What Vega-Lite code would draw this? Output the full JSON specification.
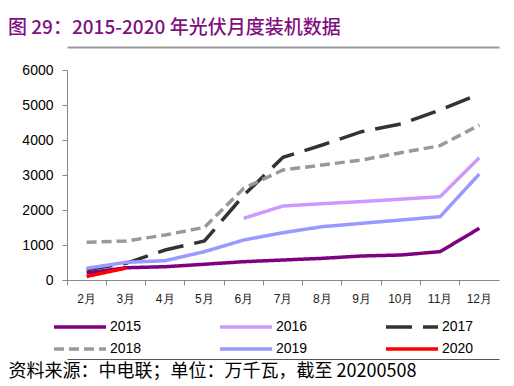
{
  "$schema": "https://vega.github.io/schema/vega-lite/v6.json",
  "autosize": "none",
  "width": 432,
  "height": 210,
  "padding": {"left": 67, "top": 70, "right": 15, "bottom": 106},
  "background": "white",
  "config": {"view": {"stroke": null}, "font": "Arial"},
  "title": {
    "text": "图 29：2015-2020 年光伏月度装机数据",
    "anchor": "start",
    "frame": "group",
    "dx": -59,
    "offset": 9,
    "font": "Noto Sans CJK SC",
    "fontSize": 19,
    "fontWeight": 500,
    "color": "#7F107F"
  },
  "data": {
    "values": [
      {"month": "2月", "year": "2015", "value": 200},
      {"month": "3月", "year": "2015", "value": 350},
      {"month": "4月", "year": "2015", "value": 380},
      {"month": "5月", "year": "2015", "value": 450},
      {"month": "6月", "year": "2015", "value": 523},
      {"month": "7月", "year": "2015", "value": 571},
      {"month": "8月", "year": "2015", "value": 619},
      {"month": "9月", "year": "2015", "value": 686},
      {"month": "10月", "year": "2015", "value": 714},
      {"month": "11月", "year": "2015", "value": 810},
      {"month": "12月", "year": "2015", "value": 1477},
      {"month": "6月", "year": "2016", "value": 1762},
      {"month": "7月", "year": "2016", "value": 2114},
      {"month": "8月", "year": "2016", "value": 2180},
      {"month": "9月", "year": "2016", "value": 2240},
      {"month": "10月", "year": "2016", "value": 2310},
      {"month": "11月", "year": "2016", "value": 2381},
      {"month": "12月", "year": "2016", "value": 3495},
      {"month": "2月", "year": "2017", "value": 290},
      {"month": "3月", "year": "2017", "value": 476},
      {"month": "4月", "year": "2017", "value": 857},
      {"month": "5月", "year": "2017", "value": 1114},
      {"month": "6月", "year": "2017", "value": 2420},
      {"month": "7月", "year": "2017", "value": 3505},
      {"month": "8月", "year": "2017", "value": 3857},
      {"month": "9月", "year": "2017", "value": 4238},
      {"month": "10月", "year": "2017", "value": 4457},
      {"month": "11月", "year": "2017", "value": 4857},
      {"month": "12月", "year": "2017", "value": 5314},
      {"month": "2月", "year": "2018", "value": 1076},
      {"month": "3月", "year": "2018", "value": 1114},
      {"month": "4月", "year": "2018", "value": 1286},
      {"month": "5月", "year": "2018", "value": 1505},
      {"month": "6月", "year": "2018", "value": 2619},
      {"month": "7月", "year": "2018", "value": 3143},
      {"month": "8月", "year": "2018", "value": 3286},
      {"month": "9月", "year": "2018", "value": 3429},
      {"month": "10月", "year": "2018", "value": 3638},
      {"month": "11月", "year": "2018", "value": 3838},
      {"month": "12月", "year": "2018", "value": 4429},
      {"month": "2月", "year": "2019", "value": 333},
      {"month": "3月", "year": "2019", "value": 505},
      {"month": "4月", "year": "2019", "value": 552},
      {"month": "5月", "year": "2019", "value": 810},
      {"month": "6月", "year": "2019", "value": 1143},
      {"month": "7月", "year": "2019", "value": 1352},
      {"month": "8月", "year": "2019", "value": 1524},
      {"month": "9月", "year": "2019", "value": 1619},
      {"month": "10月", "year": "2019", "value": 1714},
      {"month": "11月", "year": "2019", "value": 1810},
      {"month": "12月", "year": "2019", "value": 3029},
      {"month": "2月", "year": "2020", "value": 100},
      {"month": "3月", "year": "2020", "value": 340}
    ]
  },
  "encoding": {
    "y": {
      "field": "value",
      "type": "quantitative",
      "scale": {"domain": [0, 6000], "nice": false},
      "axis": {
        "title": null,
        "values": [0, 1000, 2000, 3000, 4000, 5000, 6000],
        "format": "d",
        "labelOverlap": false,
        "grid": false,
        "labelFont": "Arial",
        "labelFontSize": 14,
        "labelColor": "#000",
        "labelPadding": 9,
        "domainColor": "#888",
        "tickColor": "#888",
        "tickSize": 5
      }
    }
  },
  "resolve": {"axis": {"x": "independent"}},
  "layer": [
    {
      "mark": {"type": "line", "strokeCap": "butt"},
      "encoding": {
        "x": {
          "field": "month",
          "type": "ordinal",
          "sort": ["2月", "3月", "4月", "5月", "6月", "7月", "8月", "9月", "10月", "11月", "12月"],
          "scale": {"type": "band", "paddingInner": 0, "paddingOuter": 0},
          "bandPosition": 0.5,
          "axis": {
            "orient": "bottom",
            "title": null,
            "labelAngle": 0,
            "bandPosition": 0,
            "labelFont": "Arial",
            "labelFontSize": 12,
            "labelColor": "#222",
            "labelPadding": 8,
            "domainColor": "#888",
            "tickColor": "#888",
            "tickSize": 5
          }
        },
        "color": {
          "field": "year",
          "type": "nominal",
          "scale": {
            "domain": ["2015", "2016", "2017", "2018", "2019", "2020"],
            "range": ["#800080", "#CC99FF", "#333333", "#999999", "#9999FF", "#FF0000"]
          },
          "legend": {
            "orient": "none",
            "legendX": -15,
            "legendY": 250,
            "direction": "horizontal",
            "columns": 3,
            "columnPadding": 71,
            "rowPadding": 8,
            "title": null,
            "symbolType": "M-1,0H9.4",
            "symbolSize": 100,
            "labelFont": "Arial",
            "labelFontSize": 14,
            "labelColor": "#000",
            "labelOffset": 44
          }
        },
        "strokeDash": {
          "field": "year",
          "type": "nominal",
          "scale": {
            "domain": ["2015", "2016", "2017", "2018", "2019", "2020"],
            "range": [[1, 0], [1, 0], [26, 11], [10, 5], [1, 0], [1, 0]]
          },
          "legend": null
        },
        "strokeWidth": {
          "field": "year",
          "type": "nominal",
          "scale": {
            "domain": ["2015", "2016", "2017", "2018", "2019", "2020"],
            "range": [3.5, 3.5, 4, 4, 3.5, 6]
          },
          "legend": null
        }
      }
    },
    {
      "mark": {"type": "line", "opacity": 0},
      "encoding": {
        "x": {
          "field": "month",
          "type": "ordinal",
          "sort": ["2月", "3月", "4月", "5月", "6月", "7月", "8月", "9月", "10月", "11月", "12月"],
          "axis": {
            "orient": "top",
            "offset": 23,
            "title": null,
            "labels": false,
            "ticks": false,
            "domainColor": "#999",
            "domainWidth": 2
          }
        }
      }
    },
    {
      "mark": {"type": "line", "opacity": 0},
      "encoding": {
        "x": {
          "field": "month",
          "type": "ordinal",
          "sort": ["2月", "3月", "4月", "5月", "6月", "7月", "8月", "9月", "10月", "11月", "12月"],
          "axis": {
            "orient": "bottom",
            "offset": 79,
            "title": "资料来源：中电联；单位：万千瓦，截至 20200508",
            "titleFont": "Noto Sans CJK SC",
            "titleFontWeight": "normal",
            "titleFontSize": 18,
            "titleColor": "#000",
            "titleAnchor": "start",
            "titleAlign": "left",
            "titleBaseline": "top",
            "titleX": -59,
            "titleY": 3,
            "labels": false,
            "ticks": false,
            "domainColor": "#555",
            "domainWidth": 1
          }
        }
      }
    }
  ]
}
